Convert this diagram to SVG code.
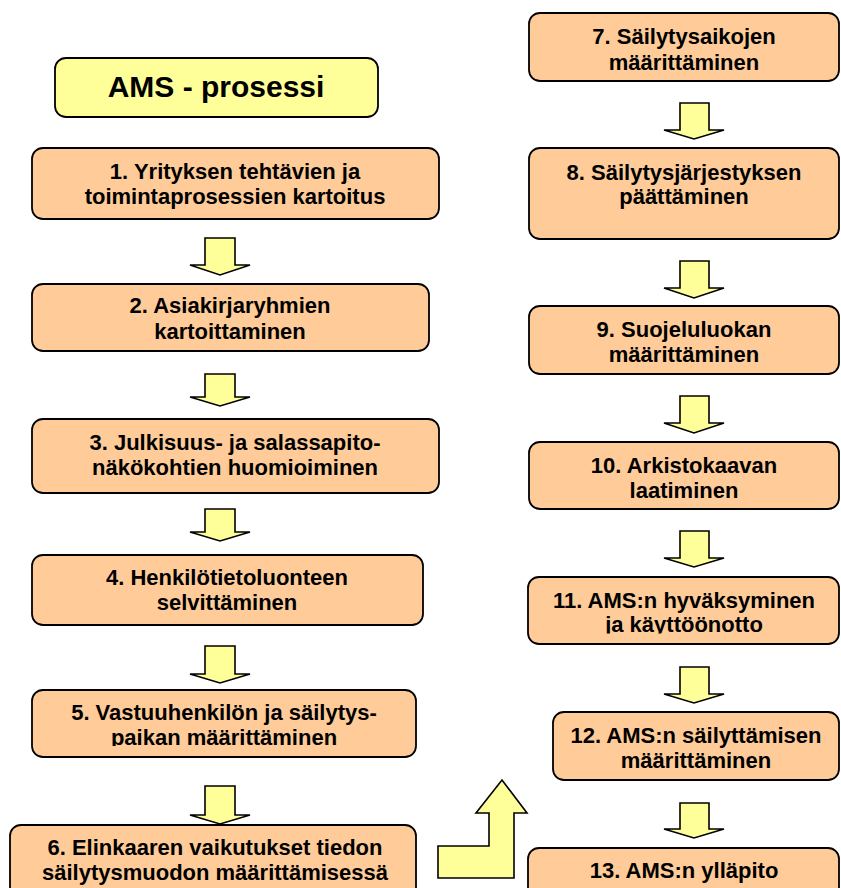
<svg xmlns="http://www.w3.org/2000/svg" width="841" height="888" viewBox="0 0 841 888">
<style>
.box{fill:#FFCC99;stroke:#000;stroke-width:1.8}
.title{fill:#FFFF99;stroke:#000;stroke-width:1.8}
.arr{fill:#FFFF99;stroke:#000;stroke-width:1.6;stroke-linejoin:miter}
text{font-family:"Liberation Sans",Arial,sans-serif;font-weight:bold;font-size:22px;fill:#000;text-anchor:middle}
.tt{font-size:30px}
</style>
<defs>
<clipPath id="c5"><rect x="0" y="680" width="841" height="66"/></clipPath>
<clipPath id="c11"><rect x="0" y="570" width="841" height="63.5"/></clipPath>
</defs>
<rect width="841" height="888" fill="#fff"/>
<g id="title"><rect class="title" x="55" y="58" width="323" height="59" rx="11"/><text class="tt" x="216" y="97">AMS - prosessi</text></g>
<g id="n1"><rect class="box" x="32" y="148" width="407" height="71" rx="11"/><text x="235" y="179">1. Yrityksen tehtävien ja</text><text x="235" y="204">toimintaprosessien kartoitus</text></g>
<g id="n2"><rect class="box" x="32" y="284" width="397" height="67" rx="11"/><text x="230" y="313">2. Asiakirjaryhmien</text><text x="230" y="339">kartoittaminen</text></g>
<g id="n3"><rect class="box" x="32" y="419" width="407" height="74" rx="11"/><text x="235" y="450">3. Julkisuus- ja salassapito-</text><text x="235" y="475">näkökohtien huomioiminen</text></g>
<g id="n4"><rect class="box" x="32" y="555" width="391" height="70" rx="11"/><text x="227" y="585">4. Henkilötietoluonteen</text><text x="227" y="610">selvittäminen</text></g>
<g id="n5"><rect class="box" x="32" y="690" width="384" height="67" rx="11"/><text x="224" y="720">5. Vastuuhenkilön ja säilytys-</text><text x="224" y="745" clip-path="url(#c5)">paikan määrittäminen</text></g>
<g id="n6"><rect class="box" x="10" y="825" width="406" height="80" rx="11"/><text x="215" y="855">6. Elinkaaren vaikutukset tiedon</text><text x="215" y="880">säilytysmuodon määrittämisessä</text></g>
<g id="n7"><rect class="box" x="529" y="13" width="310" height="68" rx="11"/><text x="684" y="44">7. Säilytysaikojen</text><text x="684" y="70">määrittäminen</text></g>
<g id="n8"><rect class="box" x="529" y="148" width="310" height="91" rx="11"/><text x="684" y="180">8. Säilytysjärjestyksen</text><text x="684" y="204">päättäminen</text></g>
<g id="n9"><rect class="box" x="529" y="306" width="310" height="68" rx="11"/><text x="684" y="337">9. Suojeluluokan</text><text x="684" y="362">määrittäminen</text></g>
<g id="n10"><rect class="box" x="529" y="442" width="310" height="67" rx="11"/><text x="684" y="473">10. Arkistokaavan</text><text x="684" y="498">laatiminen</text></g>
<g id="n11"><rect class="box" x="528" y="577" width="311" height="67" rx="11"/><text x="684" y="608">11. AMS:n hyväksyminen</text><text x="684" y="632" clip-path="url(#c11)">ja käyttöönotto</text></g>
<g id="n12"><rect class="box" x="553" y="712" width="286" height="68" rx="11"/><text x="696" y="743">12. AMS:n säilyttämisen</text><text x="696" y="768">määrittäminen</text></g>
<g id="n13"><rect class="box" x="528" y="848" width="311" height="70" rx="11"/><text x="684" y="878">13. AMS:n ylläpito</text></g>
<g id="connectors">
<path class="arr" d="M205,238 H235 V265 H250 L220,275 L190,265 H205 Z"/>
<path class="arr" d="M205,374 H235 V397 H250 L220,406 L190,397 H205 Z"/>
<path class="arr" d="M205,509 H235 V532 H250 L220,541 L190,532 H205 Z"/>
<path class="arr" d="M205,646 H235 V674 H250 L220,683 L190,674 H205 Z"/>
<path class="arr" d="M205,786 H235 V815 H250 L220,824 L190,815 H205 Z"/>
<path class="arr" d="M680,103 H709 V130 H724 L694,139 L664,130 H680 Z"/>
<path class="arr" d="M680,261 H709 V288 H724 L694,298 L664,288 H680 Z"/>
<path class="arr" d="M680,396 H709 V423 H724 L694,433 L664,423 H680 Z"/>
<path class="arr" d="M680,531 H709 V558 H724 L694,567 L664,558 H680 Z"/>
<path class="arr" d="M680,667 H709 V694 H724 L694,703 L664,694 H680 Z"/>
<path class="arr" d="M680,803 H709 V829 H724 L694,838 L664,829 H680 Z"/>
<path class="arr" d="M438,878 V846 H489 V813 H476 L502,780 L527,813 H514 V878 Z"/>
</g>
</svg>
